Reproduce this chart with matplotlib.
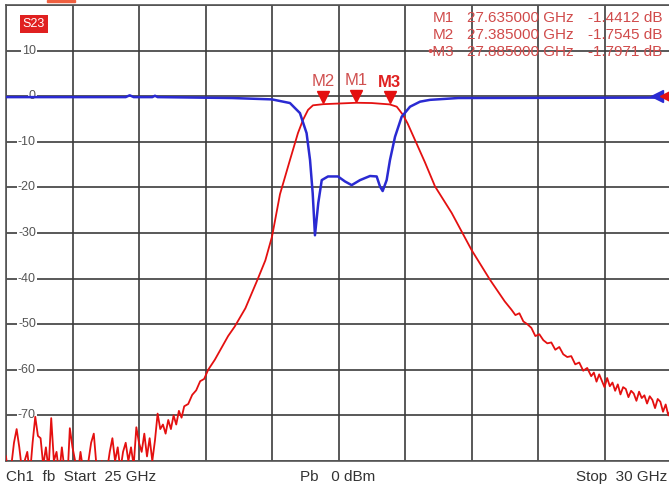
import numpy as np
import matplotlib.pyplot as plt
from matplotlib.patches import Rectangle
from matplotlib import transforms

plt.rcParams['font.family'] = ['Liberation Sans', 'DejaVu Sans']

# sweep settings
f_start, f_stop = 25.0, 30.0
db_top, db_bottom = 20, -80
ref_level = 0

# transmission trace (red), GHz / dB
red_f = [25.00, 25.02, 25.04, 25.06, 25.08, 25.10, 25.12, 25.14, 25.16, 25.18,
         25.20, 25.22, 25.24, 25.26, 25.28, 25.30, 25.32, 25.34, 25.36, 25.38,
         25.40, 25.42, 25.44, 25.46, 25.48, 25.50, 25.52, 25.54, 25.56, 25.58,
         25.60, 25.62, 25.64, 25.66, 25.68, 25.70, 25.72, 25.74, 25.76, 25.78,
         25.80, 25.82, 25.84, 25.86, 25.88, 25.90, 25.92, 25.94, 25.96, 25.98,
         26.00, 26.02, 26.04, 26.06, 26.08, 26.10, 26.12, 26.14, 26.16, 26.18,
         26.20, 26.22, 26.24, 26.26, 26.28, 26.30, 26.32, 26.34, 26.37, 26.40,
         26.43, 26.46, 26.49, 26.52, 26.57, 26.62, 26.67, 26.72, 26.80, 26.89,
         26.95, 27.00, 27.06, 27.135, 27.195, 27.233, 27.271, 27.308, 27.385, 27.50,
         27.635, 27.75, 27.885, 27.938, 27.985, 28.02, 28.075, 28.15, 28.226, 28.351,
         28.50, 28.64, 28.75, 28.80, 28.83, 28.86, 28.89, 28.92, 28.95, 28.98,
         29.01, 29.04, 29.07, 29.10, 29.13, 29.16, 29.19, 29.22, 29.25, 29.28,
         29.31, 29.34, 29.37, 29.40, 29.42, 29.44, 29.46, 29.48, 29.50, 29.52,
         29.54, 29.56, 29.58, 29.60, 29.62, 29.64, 29.66, 29.68, 29.70, 29.72,
         29.74, 29.76, 29.78, 29.80, 29.82, 29.84, 29.86, 29.88, 29.90, 29.92,
         29.94, 29.96, 29.98, 30.00]
red_db = [-79, -84, -81, -76, -73, -77, -82, -80, -78, -83,
          -76, -70.3, -74.5, -75, -81, -77, -82, -70.6, -80, -78,
          -83, -77, -82, -85, -72.8, -77, -80, -83, -78, -82,
          -85, -80, -76, -74, -81, -84, -80, -85, -82, -78,
          -75, -80, -77, -82, -78, -76, -80, -77, -81, -72.6,
          -76, -78, -74, -79, -75, -80, -75.5, -69.6, -73, -72,
          -74, -71, -73, -70, -72, -69, -70.5, -68, -67.5, -65.5,
          -64.5, -62.5, -62, -60, -57.8, -55.2, -52.6, -50.5, -46.5, -40.3,
          -36, -30.8, -21.5, -14, -8.1, -5.2, -3.0, -2.0, -1.75, -1.6,
          -1.44, -1.5, -1.8, -2.3, -4.1, -6.0, -9.6, -14.5, -19.8, -25.6,
          -33.7, -40.3, -45.0, -46.8, -48.0, -47.6, -49.4, -50.0, -50.8, -52.6,
          -52.2, -53.5, -54.2, -54.0, -55.6, -55.0, -56.6, -57.2, -57.0, -58.8,
          -58.4, -60.2, -59.6, -61.4, -60.6, -62.6, -61.0, -62.4, -63.8, -61.8,
          -63.6, -62.8, -64.6, -63.2, -65.4, -63.8, -64.2, -66.0, -64.6, -65.2,
          -66.8, -64.8, -66.2, -65.6, -67.4, -65.8, -66.6, -68.4, -66.4, -67.0,
          -69.2, -67.6, -70.0, -68.6]

# reflection trace (blue)
blue_f = [25.00, 25.90, 25.93, 25.96, 26.10, 26.12, 26.14, 26.70, 27.00, 27.135,
          27.21, 27.26, 27.286, 27.306, 27.323, 27.348, 27.374, 27.421, 27.496, 27.549,
          27.599, 27.662, 27.737, 27.787, 27.812, 27.832, 27.862, 27.887, 27.925, 27.975,
          28.038, 28.113, 28.188, 28.40, 30.00]
blue_db = [-0.2, -0.2, 0.2, -0.2, -0.2, 0.1, -0.2, -0.4, -0.7, -1.5,
           -3.7, -8.1, -14, -21.3, -30.5, -23.4, -18.4, -17.6, -17.6, -18.7,
           -19.5, -18.4, -17.5, -17.6, -19.8, -20.8, -18.4, -14, -8.9, -4.5,
           -2.3, -1.2, -0.8, -0.4, -0.3]

# markers
mk_names = ['M1', 'M2', 'M3']
mk_f = [27.635, 27.385, 27.885]
mk_db = [-1.4412, -1.7545, -1.7971]
active_marker = 'M3'

W, H = 669, 484
fig = plt.figure(figsize=(W / 100, H / 100), dpi=100)
fig.patch.set_facecolor('white')
ax = fig.add_axes([6 / W, 23 / H, 665 / W, 456 / H])

ax.set_xlim(f_start, f_stop)
ax.set_ylim(db_bottom, db_top)
ax.set_xticks(np.linspace(f_start, f_stop, 11))
ax.set_yticks(np.arange(db_bottom, db_top + 1, 10))
ax.tick_params(length=0, labelbottom=False, labelleft=False)
ax.grid(True, color='#3c3c3c', linewidth=1.2)
ax.set_axisbelow(True)
for sp in ax.spines.values():
    sp.set_color('#555555')
    sp.set_linewidth(1.2)

# y labels inside the first column
for v in range(10, db_bottom + 1, -10):
    ax.text(25.225, v, str(v), ha='right', va='center', fontsize=9,
            color='#555555', zorder=3,
            bbox=dict(fc='white', ec='none', pad=1))

ax.plot(red_f, red_db, color='#e41010', linewidth=1.3, zorder=4)
ax.plot(blue_f, blue_db, color='#2a2ad2', linewidth=1.8, zorder=5)

# marker triangles + labels
tri = transforms.offset_copy(ax.transData, fig=fig, x=0, y=5, units='points')
for name, f, v in zip(mk_names, mk_f, mk_db):
    ax.plot(f, v, marker='v', color='#e41010', markersize=9, transform=tri,
            zorder=6, clip_on=False)
    bold = name == active_marker
    ax.annotate(name, xy=(f, v), xytext=(0, 16), textcoords='offset points',
                ha='center', va='center', fontsize=12,
                color='#e02020' if bold else '#d05050',
                fontweight='bold' if bold else 'normal', zorder=6)

# reference level arrows at the right edge
ref_tr = transforms.blended_transform_factory(ax.transAxes, ax.transData)
ax.plot(0.979, ref_level, marker='<', color='#2a2ad2', markersize=9,
        transform=ref_tr, clip_on=False, zorder=6)
ax.plot(0.993, ref_level, marker='<', color='#e41010', markersize=9,
        transform=ref_tr, clip_on=False, zorder=6)

# marker table
for i, (name, f, v) in enumerate(zip(mk_names, mk_f, mk_db)):
    y = 1 - (18 + 17 * i) / H
    lab = ('\u2022' + name) if name == active_marker else name
    fig.text(454 / W, y, lab, ha='right', va='center', fontsize=11, color='#d04a4a')
    fig.text(467 / W, y, f'{f:.6f} GHz', ha='left', va='center', fontsize=11, color='#d04a4a')
    fig.text(662 / W, y, f'{v:.4f} dB', ha='right', va='center', fontsize=11, color='#d04a4a')

# trace tag
fig.text(34 / W, 1 - 24 / H, 'S23', ha='center', va='center', fontsize=9, color='white',
         bbox=dict(boxstyle='square,pad=0.25', fc='#e02020', ec='none'))
fig.patches.append(Rectangle((47 / W, 1 - 2 / H), 28 / W, 2 / H, transform=fig.transFigure,
                             color='#f06040'))

# footer
fig.text(6 / W, 7 / H, 'Ch1  fb  Start  25 GHz', ha='left', va='center', fontsize=11, color='#333333')
fig.text(300 / W, 7 / H, 'Pb   0 dBm', ha='left', va='center', fontsize=11, color='#333333')
fig.text(667 / W, 7 / H, 'Stop  30 GHz', ha='right', va='center', fontsize=11, color='#333333')

fig.savefig('out.png', dpi=100)
